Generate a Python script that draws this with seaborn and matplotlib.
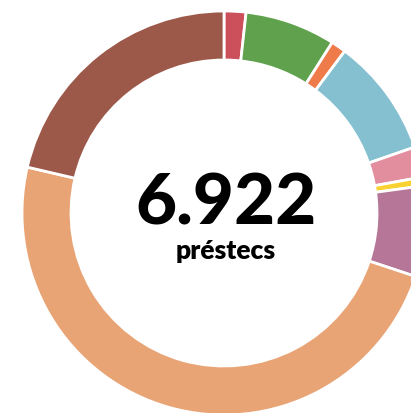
import matplotlib
matplotlib.use("Agg")
import matplotlib.pyplot as plt
import seaborn as sns

# préstecs per categoria (clockwise from 12 o'clock)
categories = ["Cat. A", "Cat. B", "Cat. C", "Cat. D", "Cat. E", "Cat. F", "Cat. G", "Cat. H", "Cat. I"]
loans = [121, 502, 83, 658, 169, 48, 502, 3361, 1478]
colors = ["#CC4F5C", "#60A14D", "#EF7B4B", "#85C0D0", "#E38E9E",
          "#F9D232", "#B57698", "#E9A476", "#9C594A"]
total_label = "6.922"
unit_label = "préstecs"

sns.set_theme(style="white")
plt.rcParams["font.family"] = ["Lato", "DejaVu Sans"]

W, H = 411, 414
fig = plt.figure(figsize=(W / 100, H / 100), dpi=100)
# donut centre ~ (224, 214) px, outer radius ~ 202 px
cx, cy, r = 224, 214, 202
ax = fig.add_axes([(cx - r) / W, (H - cy - r) / H, 2 * r / W, 2 * r / H])

ax.pie(loans, colors=sns.color_palette(colors), startangle=90, counterclock=False,
       radius=1.0, wedgeprops=dict(width=49 / r, edgecolor="white", linewidth=2))
ax.set_xlim(-1, 1)
ax.set_ylim(-1, 1)
ax.set_aspect("auto")
ax.axis("off")

# baselines (px from top)
ax.text(0.01, (cy - 225) / r, total_label, ha="center", va="baseline",
        fontsize=51, fontweight="black", color="black")
ax.text(0.01, (cy - 259) / r, unit_label, ha="center", va="baseline",
        fontsize=19, fontweight="heavy", color="black")

fig.savefig("out.png", dpi=100)
